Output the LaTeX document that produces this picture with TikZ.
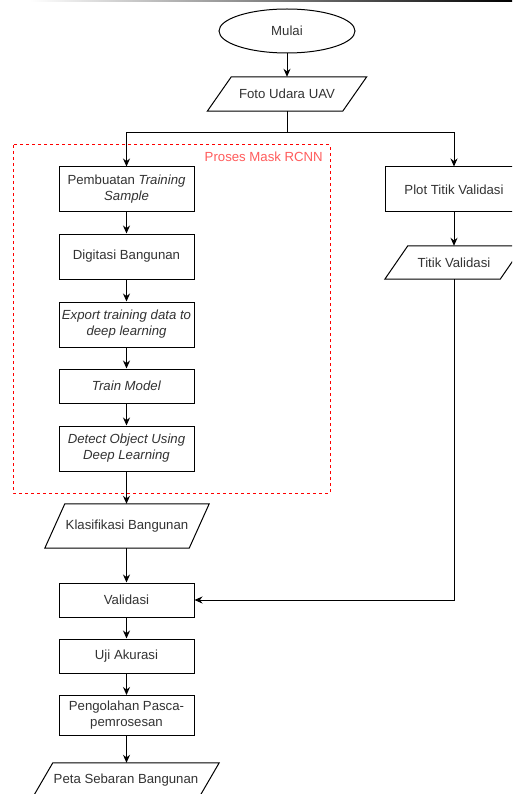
\documentclass[tikz,border=0pt]{standalone}
\usepackage{fontspec}
\setmainfont{Liberation Sans}
\usetikzlibrary{shapes.geometric,arrows.meta,calc}
\definecolor{txt}{HTML}{333333}
\definecolor{redline}{HTML}{FF0000}
\definecolor{redtxt}{HTML}{FF5C5C}
\tikzset{
  line/.style={draw=black, line width=1pt},
  arr/.style={line, -{Stealth[length=8pt,width=7pt]}},
  box/.style={rectangle, line, text=txt, align=center, inner sep=0pt, minimum width=135pt, font=\fontsize{13.2}{16}\selectfont},
  paranode/.style={rectangle, text=txt, align=center, inner sep=0pt, font=\fontsize{13.2}{16}\selectfont},
  term/.style={ellipse, line, text=txt, inner sep=0pt, minimum width=136pt, minimum height=44pt, font=\fontsize{13.2}{16}\selectfont},
}
\newcommand\parashape[2]{\draw[line] ($(#1.north west)+(#2,0)$) -- ($(#1.north east)+(#2,0)$) -- ($(#1.south east)-(#2,0)$) -- ($(#1.south west)-(#2,0)$) -- cycle;}
\begin{document}
\begin{tikzpicture}[x=1pt,y=-1pt]
\useasboundingbox (0,0) rectangle (512,794);
\clip (0,0) rectangle (512,794);
\fill[white] (0,0) rectangle (512,794);
% top edge line
\shade[left color=white, right color=black] (30,0) rectangle (512,1.4);

% dashed group
\draw[redline, line width=1pt, dash pattern=on 3pt off 3pt] (13,145) rectangle (330,493);
\node[anchor=east, text=redtxt, inner sep=0pt, font=\fontsize{13.2}{16}\selectfont] (grp) at (323,157) {Proses Mask RCNN};

\node[term] (mulai) at (287,31) {Mulai};
\node[paranode, minimum width=135pt, minimum height=34pt] (foto) at (287,94) {Foto Udara UAV};
\parashape{foto}{12}

\node[box, minimum height=45pt] (pemb) at (126.5,189.5) {Pembuatan \textit{Training}\\\textit{Sample}};
\node[box, minimum height=45pt] (digit) at (126.5,256.5) {Digitasi Bangunan};
\node[box, minimum height=45pt] (export) at (126.5,324.5) {\textit{Export training data to}\\\textit{deep learning}};
\node[box, minimum height=34pt] (train) at (126.5,386) {\textit{Train Model}};
\node[box, minimum height=45pt] (detect) at (126.5,448.5) {\textit{Detect Object Using}\\\textit{Deep Learning}};
\node[paranode, minimum width=144pt, minimum height=44pt] (klas) at (127,526) {Klasifikasi Bangunan};
\parashape{klas}{10}
\node[box, minimum height=34pt] (valid) at (126.5,600) {Validasi};
\node[box, minimum height=34pt] (uji) at (126.5,656) {Uji Akurasi};
\node[box, minimum height=40pt] (pengol) at (126.5,715.5) {Pengolahan Pasca-\\pemrosesan};
\node[paranode, minimum width=166pt, minimum height=34pt] (peta) at (126,780) {Peta Sebaran Bangunan};
\parashape{peta}{10}

\node[box, minimum width=138pt, minimum height=45pt] (plot) at (454,189.5) {Plot Titik Validasi};
\node[paranode, minimum width=115pt, minimum height=33pt] (titik) at (454,262.5) {Titik Validasi};
\parashape{titik}{11.5}

% connectors
\draw[arr] (mulai) -- (foto);
\coordinate (j) at (foto.south |- 0,133);
\draw[line] (foto.south) -- (j);
\draw[arr] (j) -| (pemb.north);
\draw[arr] (j) -| (plot.north);
\draw[arr] (pemb) -- (digit);
\draw[arr] (digit) -- (export);
\draw[arr] (export) -- (train);
\draw[arr] (train) -- (detect);
\draw[arr] (detect) -- (klas.north -| detect.south);
\draw[arr] (klas.south -| valid.north) -- (valid);
\draw[arr] (valid) -- (uji);
\draw[arr] (uji) -- (pengol);
\draw[arr] (pengol) -- (peta.north -| pengol.south);
\draw[arr] (plot) -- (titik);
\draw[arr] (titik.south) |- (valid.east);
\end{tikzpicture}
\end{document}
